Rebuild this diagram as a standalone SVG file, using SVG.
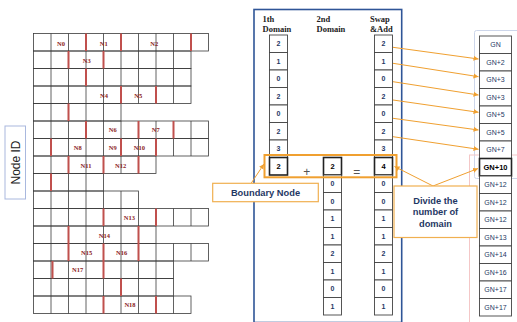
<svg xmlns="http://www.w3.org/2000/svg" width="517" height="322" viewBox="0 0 517 322">
<style>
.g{fill:none;stroke:#3a3a3a;stroke-width:0.8}
.r{stroke:#c0504d;stroke-width:2}
.nl{font-family:"Liberation Serif",serif;font-weight:bold;font-size:6.5px;fill:#8b1c1c;text-anchor:middle}
.hd{font-family:"Liberation Serif",serif;font-weight:bold;font-size:8.5px;fill:#222}
.c{fill:#fff;stroke:#444;stroke-width:0.9}
.cb{fill:#fff;stroke:#222;stroke-width:1.6}
.v{font-family:"Liberation Sans",sans-serif;font-weight:bold;font-size:7px;fill:#1f3864;text-anchor:middle}
.vb{font-family:"Liberation Sans",sans-serif;font-weight:bold;font-size:7.5px;fill:#000;text-anchor:middle}
.gn{font-family:"Liberation Sans",sans-serif;font-size:7px;fill:#1f3864;text-anchor:middle}
.gnb{font-family:"Liberation Sans",sans-serif;font-weight:bold;font-size:7.5px;fill:#000;text-anchor:middle}
.o{stroke:#f0a030;stroke-width:1;fill:none}
.co{fill:#fff;stroke:#f0b050;stroke-width:1.2}
.ct{font-family:"Liberation Sans",sans-serif;font-weight:bold;font-size:9.3px;fill:#1f3864;text-anchor:middle}
</style>
<defs>
<marker id="ah" markerWidth="6" markerHeight="6" refX="5" refY="3" orient="auto" markerUnits="userSpaceOnUse">
<path d="M0,0.5 L5,3 L0,5.5 Z" fill="#f0a030"/>
</marker>
</defs>
<rect width="517" height="322" fill="#fff"/>

<g id="grid">
<rect class="g" x="33.5" y="33.5" width="175" height="17.5"/>
<path class="g" d="M51 33.5v17.5m17.5-17.5v17.5m17.5-17.5v17.5m17.5-17.5v17.5m17.5-17.5v17.5m17.5-17.5v17.5m17.5-17.5v17.5m17.5-17.5v17.5m17.5-17.5v17.5"/>
<rect class="g" x="33.5" y="51" width="157.5" height="17.5"/>
<path class="g" d="M51 51v17.5m17.5-17.5v17.5m17.5-17.5v17.5m17.5-17.5v17.5m17.5-17.5v17.5m17.5-17.5v17.5m17.5-17.5v17.5m17.5-17.5v17.5"/>
<rect class="g" x="33.5" y="68.5" width="157.5" height="17.5"/>
<path class="g" d="M51 68.5v17.5m17.5-17.5v17.5m17.5-17.5v17.5m17.5-17.5v17.5m17.5-17.5v17.5m17.5-17.5v17.5m17.5-17.5v17.5m17.5-17.5v17.5"/>
<rect class="g" x="33.5" y="86" width="157.5" height="17.5"/>
<path class="g" d="M51 86v17.5m17.5-17.5v17.5m17.5-17.5v17.5m17.5-17.5v17.5m17.5-17.5v17.5m17.5-17.5v17.5m17.5-17.5v17.5m17.5-17.5v17.5"/>
<rect class="g" x="33.5" y="103.5" width="87.5" height="17.5"/>
<path class="g" d="M51 103.5v17.5m17.5-17.5v17.5m17.5-17.5v17.5m17.5-17.5v17.5"/>
<rect class="g" x="33.5" y="121" width="175" height="17.5"/>
<path class="g" d="M51 121v17.5m17.5-17.5v17.5m17.5-17.5v17.5m17.5-17.5v17.5m17.5-17.5v17.5m17.5-17.5v17.5m17.5-17.5v17.5m17.5-17.5v17.5m17.5-17.5v17.5"/>
<rect class="g" x="33.5" y="138.5" width="175" height="17.5"/>
<path class="g" d="M51 138.5v17.5m17.5-17.5v17.5m17.5-17.5v17.5m17.5-17.5v17.5m17.5-17.5v17.5m17.5-17.5v17.5m17.5-17.5v17.5m17.5-17.5v17.5m17.5-17.5v17.5"/>
<rect class="g" x="33.5" y="156" width="122.5" height="17.5"/>
<path class="g" d="M51 156v17.5m17.5-17.5v17.5m17.5-17.5v17.5m17.5-17.5v17.5m17.5-17.5v17.5m17.5-17.5v17.5"/>
<rect class="g" x="33.5" y="173.5" width="70" height="17.5"/>
<path class="g" d="M51 173.5v17.5m17.5-17.5v17.5m17.5-17.5v17.5"/>
<rect class="g" x="33.5" y="191" width="105" height="17.5"/>
<path class="g" d="M51 191v17.5m17.5-17.5v17.5m17.5-17.5v17.5m17.5-17.5v17.5m17.5-17.5v17.5"/>
<rect class="g" x="33.5" y="208.5" width="175" height="17.5"/>
<path class="g" d="M51 208.5v17.5m17.5-17.5v17.5m17.5-17.5v17.5m17.5-17.5v17.5m17.5-17.5v17.5m17.5-17.5v17.5m17.5-17.5v17.5m17.5-17.5v17.5m17.5-17.5v17.5"/>
<rect class="g" x="33.5" y="226" width="122.5" height="17.5"/>
<path class="g" d="M51 226v17.5m17.5-17.5v17.5m17.5-17.5v17.5m17.5-17.5v17.5m17.5-17.5v17.5m17.5-17.5v17.5"/>
<rect class="g" x="33.5" y="243.5" width="175" height="17.5"/>
<path class="g" d="M51 243.5v17.5m17.5-17.5v17.5m17.5-17.5v17.5m17.5-17.5v17.5m17.5-17.5v17.5m17.5-17.5v17.5m17.5-17.5v17.5m17.5-17.5v17.5m17.5-17.5v17.5"/>
<rect class="g" x="33.5" y="261" width="140" height="17.5"/>
<path class="g" d="M51 261v17.5m17.5-17.5v17.5m17.5-17.5v17.5m17.5-17.5v17.5m17.5-17.5v17.5m17.5-17.5v17.5m17.5-17.5v17.5"/>
<rect class="g" x="33.5" y="278.5" width="140" height="17.5"/>
<path class="g" d="M51 278.5v17.5m17.5-17.5v17.5m17.5-17.5v17.5m17.5-17.5v17.5m17.5-17.5v17.5m17.5-17.5v17.5m17.5-17.5v17.5"/>
<rect class="g" x="33.5" y="296" width="157.5" height="17.5"/>
<path class="g" d="M51 296v17.5m17.5-17.5v17.5m17.5-17.5v17.5m17.5-17.5v17.5m17.5-17.5v17.5m17.5-17.5v17.5m17.5-17.5v17.5m17.5-17.5v17.5"/>
</g>

<g id="partitions">
<path class="r" d="M86 33.5v17.5M121 33.5v17.5M191 33.5v17.5
M68.5 51v17.5M103.5 51v17.5
M86 68.5v17.5
M121 86v17.5M156 86v17.5
M68.5 103.5v17.5
M86 121v17.5M138.5 121v17.5M173.5 121v17.5
M51 138.5v17.5M121 138.5v17.5M156 138.5v17.5
M68.5 156v17.5M103.5 156v17.5M138.5 156v17.5
M51 173.5v17.5
M103.5 208.5v17.5M156 208.5v17.5
M68.5 226v17.5M138.5 226v17.5
M68.5 243.5v17.5M103.5 243.5v17.5M138.5 243.5v17.5
M52.5 261v17.5M103.5 261v17.5
M121 278.5v17.5
M103.5 296v17.5M156 296v17.5"/>
</g>

<g id="node-labels">
<text class="nl" x="61" y="45.5">N0</text>
<text class="nl" x="103.7" y="45.5">N1</text>
<text class="nl" x="154.3" y="45.5">N2</text>
<text class="nl" x="86.7" y="63">N3</text>
<text class="nl" x="104" y="98">N4</text>
<text class="nl" x="138.3" y="97.5">N5</text>
<text class="nl" x="112.7" y="132">N6</text>
<text class="nl" x="155.7" y="132">N7</text>
<text class="nl" x="77.7" y="149.8">N8</text>
<text class="nl" x="112.7" y="149.8">N9</text>
<text class="nl" x="139.3" y="149.8">N10</text>
<text class="nl" x="86" y="167.5">N11</text>
<text class="nl" x="120.7" y="167.5">N12</text>
<text class="nl" x="129.3" y="219.5">N13</text>
<text class="nl" x="104.3" y="237.5">N14</text>
<text class="nl" x="86.7" y="255.2">N15</text>
<text class="nl" x="121.7" y="255.2">N16</text>
<text class="nl" x="77.7" y="271.5">N17</text>
<text class="nl" x="130" y="306.5">N18</text>
</g>

<g id="node-id-label">
<rect x="5" y="126" width="20.5" height="73" fill="#fff" stroke="#a9b8de" stroke-width="1"/>
<text transform="translate(19.5,162.5) rotate(-90)" font-family="Liberation Sans,sans-serif" font-size="12" fill="#222" text-anchor="middle">Node ID</text>
</g>

<g id="background-boxes">
<rect x="474.5" y="30.5" width="45" height="148" fill="none" stroke="#cdd6ea" stroke-width="1" rx="2"/>
<rect x="469.5" y="155" width="50" height="170" fill="none" stroke="#f4c7c7" stroke-width="1"/>
</g>

<g id="domain-panel">
<rect x="254" y="9.5" width="147.7" height="313" fill="none" stroke="#2f5597" stroke-width="1.6"/>
<text class="hd" x="262.5" y="21.7">1th</text>
<text class="hd" x="262.5" y="32.3">Domain</text>
<text class="hd" x="316.5" y="21.7">2nd</text>
<text class="hd" x="316.5" y="32.3">Domain</text>
<text class="hd" x="370" y="21.7">Swap</text>
<text class="hd" x="370" y="32.3">&amp;Add</text>
</g>

<g id="domain1">
<rect class="c" x="269.5" y="35" width="18" height="17.5"/><text class="v" x="278.5" y="46.3">2</text>
<rect class="c" x="269.5" y="52.5" width="18" height="17.5"/><text class="v" x="278.5" y="63.8">1</text>
<rect class="c" x="269.5" y="70" width="18" height="17.5"/><text class="v" x="278.5" y="81.3">0</text>
<rect class="c" x="269.5" y="87.5" width="18" height="17.5"/><text class="v" x="278.5" y="98.8">2</text>
<rect class="c" x="269.5" y="105" width="18" height="17.5"/><text class="v" x="278.5" y="116.3">0</text>
<rect class="c" x="269.5" y="122.5" width="18" height="17.5"/><text class="v" x="278.5" y="133.8">2</text>
<rect class="c" x="269.5" y="140" width="18" height="17.5"/><text class="v" x="278.5" y="151.3">3</text>
<rect class="cb" x="269.5" y="157.5" width="18" height="17.5"/><text class="vb" x="278.5" y="168.8">2</text>
</g>

<g id="domain2">
<rect class="cb" x="323.5" y="157.5" width="18" height="17.5"/><text class="vb" x="332.5" y="168.8">2</text>
<rect class="c" x="323.5" y="175" width="18" height="17.5"/><text class="v" x="332.5" y="186.3">0</text>
<rect class="c" x="323.5" y="192.5" width="18" height="17.5"/><text class="v" x="332.5" y="203.8">0</text>
<rect class="c" x="323.5" y="210" width="18" height="17.5"/><text class="v" x="332.5" y="221.3">1</text>
<rect class="c" x="323.5" y="227.5" width="18" height="17.5"/><text class="v" x="332.5" y="238.8">1</text>
<rect class="c" x="323.5" y="245" width="18" height="17.5"/><text class="v" x="332.5" y="256.3">2</text>
<rect class="c" x="323.5" y="262.5" width="18" height="17.5"/><text class="v" x="332.5" y="273.8">1</text>
<rect class="c" x="323.5" y="280" width="18" height="17.5"/><text class="v" x="332.5" y="291.3">0</text>
<rect class="c" x="323.5" y="297.5" width="18" height="17.5"/><text class="v" x="332.5" y="308.8">1</text>
</g>

<g id="swap-add">
<rect class="c" x="374.5" y="35" width="18" height="17.5"/><text class="v" x="383.5" y="46.3">2</text>
<rect class="c" x="374.5" y="52.5" width="18" height="17.5"/><text class="v" x="383.5" y="63.8">1</text>
<rect class="c" x="374.5" y="70" width="18" height="17.5"/><text class="v" x="383.5" y="81.3">0</text>
<rect class="c" x="374.5" y="87.5" width="18" height="17.5"/><text class="v" x="383.5" y="98.8">2</text>
<rect class="c" x="374.5" y="105" width="18" height="17.5"/><text class="v" x="383.5" y="116.3">0</text>
<rect class="c" x="374.5" y="122.5" width="18" height="17.5"/><text class="v" x="383.5" y="133.8">2</text>
<rect class="c" x="374.5" y="140" width="18" height="17.5"/><text class="v" x="383.5" y="151.3">3</text>
<rect class="cb" x="374.5" y="157.5" width="18" height="17.5"/><text class="vb" x="383.5" y="168.8">4</text>
<rect class="c" x="374.5" y="175" width="18" height="17.5"/><text class="v" x="383.5" y="186.3">0</text>
<rect class="c" x="374.5" y="192.5" width="18" height="17.5"/><text class="v" x="383.5" y="203.8">0</text>
<rect class="c" x="374.5" y="210" width="18" height="17.5"/><text class="v" x="383.5" y="221.3">1</text>
<rect class="c" x="374.5" y="227.5" width="18" height="17.5"/><text class="v" x="383.5" y="238.8">1</text>
<rect class="c" x="374.5" y="245" width="18" height="17.5"/><text class="v" x="383.5" y="256.3">2</text>
<rect class="c" x="374.5" y="262.5" width="18" height="17.5"/><text class="v" x="383.5" y="273.8">1</text>
<rect class="c" x="374.5" y="280" width="18" height="17.5"/><text class="v" x="383.5" y="291.3">0</text>
<rect class="c" x="374.5" y="297.5" width="18" height="17.5"/><text class="v" x="383.5" y="308.8">1</text>
</g>

<g id="operators">
<text x="306.7" y="175.5" font-family="Liberation Sans,sans-serif" font-size="12" fill="#555" text-anchor="middle">+</text>
<text x="356.7" y="175.5" font-family="Liberation Sans,sans-serif" font-size="12" fill="#555" text-anchor="middle">=</text>
</g>

<g id="boundary-highlight">
<rect x="264.5" y="155" width="132" height="22.3" fill="none" stroke="#f0a030" stroke-width="2"/>
</g>

<g id="gn-column">
<rect class="c" x="479.5" y="36" width="32" height="17.5"/><text class="gn" x="495.5" y="47.3">GN</text>
<rect class="c" x="479.5" y="53.5" width="32" height="17.5"/><text class="gn" x="495.5" y="64.8">GN+2</text>
<rect class="c" x="479.5" y="71" width="32" height="17.5"/><text class="gn" x="495.5" y="82.3">GN+3</text>
<rect class="c" x="479.5" y="88.5" width="32" height="17.5"/><text class="gn" x="495.5" y="99.8">GN+3</text>
<rect class="c" x="479.5" y="106" width="32" height="17.5"/><text class="gn" x="495.5" y="117.3">GN+5</text>
<rect class="c" x="479.5" y="123.5" width="32" height="17.5"/><text class="gn" x="495.5" y="134.8">GN+5</text>
<rect class="c" x="479.5" y="141" width="32" height="17.5"/><text class="gn" x="495.5" y="152.3">GN+7</text>
<rect class="cb" x="479.5" y="158.5" width="32" height="17.5"/><text class="gnb" x="495.5" y="169.8">GN+10</text>
<rect class="c" x="479.5" y="176" width="32" height="17.5"/><text class="gn" x="495.5" y="187.3">GN+12</text>
<rect class="c" x="479.5" y="193.5" width="32" height="17.5"/><text class="gn" x="495.5" y="204.8">GN+12</text>
<rect class="c" x="479.5" y="211" width="32" height="17.5"/><text class="gn" x="495.5" y="222.3">GN+12</text>
<rect class="c" x="479.5" y="228.5" width="32" height="17.5"/><text class="gn" x="495.5" y="239.8">GN+13</text>
<rect class="c" x="479.5" y="246" width="32" height="17.5"/><text class="gn" x="495.5" y="257.3">GN+14</text>
<rect class="c" x="479.5" y="263.5" width="32" height="17.5"/><text class="gn" x="495.5" y="274.8">GN+16</text>
<rect class="c" x="479.5" y="281" width="32" height="17.5"/><text class="gn" x="495.5" y="292.3">GN+17</text>
<rect class="c" x="479.5" y="298.5" width="32" height="17.5"/><text class="gn" x="495.5" y="309.8">GN+17</text>
</g>

<g id="connectors">
<line class="o" x1="393" y1="47.3" x2="478.5" y2="59" marker-end="url(#ah)"/>
<line class="o" x1="393" y1="63.3" x2="478.5" y2="76.7" marker-end="url(#ah)"/>
<line class="o" x1="393" y1="81.7" x2="478.5" y2="95" marker-end="url(#ah)"/>
<line class="o" x1="393" y1="100" x2="478.5" y2="112.3" marker-end="url(#ah)"/>
<line class="o" x1="393" y1="118.3" x2="478.5" y2="130" marker-end="url(#ah)"/>
<line class="o" x1="393" y1="136.7" x2="478.5" y2="149.3" marker-end="url(#ah)"/>
<line class="o" x1="251" y1="183.5" x2="264" y2="164" marker-end="url(#ah)" stroke-width="1.3"/>
<line class="o" x1="433" y1="186" x2="394.5" y2="166.5" marker-end="url(#ah)" stroke-width="1.3"/>
<line class="o" x1="433" y1="186" x2="478" y2="168.5" marker-end="url(#ah)" stroke-width="1.3"/>
</g>

<g id="boundary-callout">
<rect class="co" x="212.7" y="183.3" width="105.6" height="18.4"/>
<text class="ct" x="265.5" y="195.8">Boundary Node</text>
</g>

<g id="divide-callout">
<rect class="co" x="394" y="186" width="83" height="51.5"/>
<text class="ct" x="435.5" y="204">Divide the</text>
<text class="ct" x="435.5" y="215.3">number of</text>
<text class="ct" x="435.5" y="226.6">domain</text>
</g>
</svg>
